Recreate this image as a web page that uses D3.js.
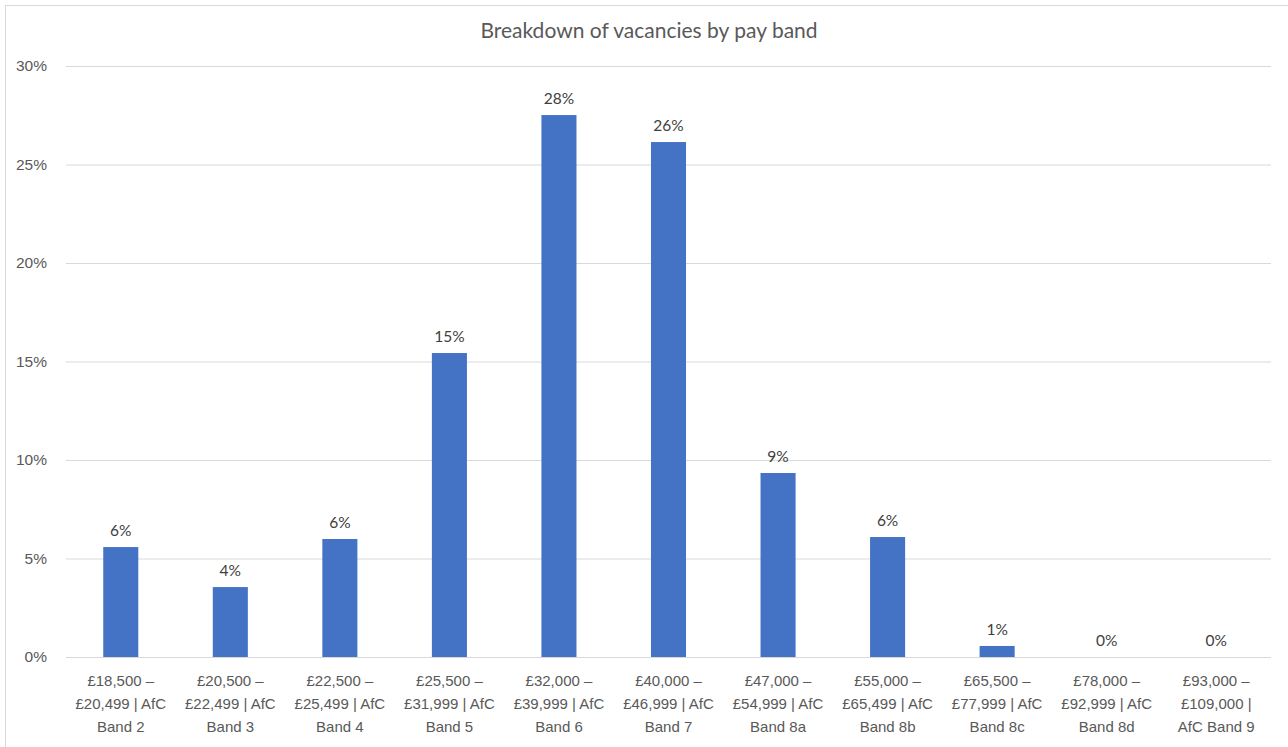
<!DOCTYPE html>
<html>
<head>
<meta charset="utf-8">
<script src="https://cdn.jsdelivr.net/npm/d3@7"></script>
<style>
  html, body { margin: 0; padding: 0; background: #fff; }
  svg { display: block; font-family: Lato, "Open Sans", sans-serif; }
</style>
</head>
<body>
<svg id="chart" width="1288" height="747"></svg>
<script>
const title = "Breakdown of vacancies by pay band";
const categories = [
  ["£18,500 –", "£20,499 | AfC", "Band 2"],
  ["£20,500 –", "£22,499 | AfC", "Band 3"],
  ["£22,500 –", "£25,499 | AfC", "Band 4"],
  ["£25,500 –", "£31,999 | AfC", "Band 5"],
  ["£32,000 –", "£39,999 | AfC", "Band 6"],
  ["£40,000 –", "£46,999 | AfC", "Band 7"],
  ["£47,000 –", "£54,999 | AfC", "Band 8a"],
  ["£55,000 –", "£65,499 | AfC", "Band 8b"],
  ["£65,500 –", "£77,999 | AfC", "Band 8c"],
  ["£78,000 –", "£92,999 | AfC", "Band 8d"],
  ["£93,000 –", "£109,000 |", "AfC Band 9"]
];
const values = [0.0558, 0.0355, 0.0599, 0.1543, 0.2751, 0.2614, 0.0934, 0.0609, 0.0056, 0, 0];
const yTicks = [0, 0.05, 0.10, 0.15, 0.20, 0.25, 0.30];

const svg = d3.select("#chart");
const W = 1288, H = 747;
const margin = {left: 66, right: 17, top: 66, bottom: 90};

// chart border
svg.append("rect").attr("x", 5.5).attr("y", 5.5).attr("width", W + 10).attr("height", H + 10)
  .attr("fill", "none").attr("stroke", "#d9d9d9").attr("stroke-width", 1);

const x = d3.scaleBand().domain(d3.range(categories.length))
  .range([margin.left, W - margin.right]).paddingInner(0.68).paddingOuter(0.34);
const y = d3.scaleLinear().domain([0, 0.30]).range([H - margin.bottom, margin.top]);

// gridlines
const yAxis = d3.axisLeft(y).tickValues(yTicks).tickFormat(d3.format(".0%"))
  .tickSize(-(W - margin.right - margin.left)).tickPadding(19);
const gy = svg.append("g").attr("transform", `translate(${margin.left},0)`).call(yAxis);
gy.select(".domain").remove();
gy.selectAll(".tick line").attr("stroke", "#d9d9d9").attr("stroke-width", 1);
gy.selectAll(".tick text").attr("fill", "#595959").style("font-size", "15.5px");

// bars
svg.append("g").selectAll("rect").data(values).join("rect")
  .attr("x", (d, i) => x(i)).attr("width", x.bandwidth())
  .attr("y", d => y(d)).attr("height", d => y(0) - y(d))
  .attr("fill", "#4472c4");

// data labels
svg.append("g").selectAll("text").data(values).join("text")
  .attr("x", (d, i) => x(i) + x.bandwidth() / 2)
  .attr("y", d => y(d) - 11)
  .attr("text-anchor", "middle")
  .attr("fill", "#404040").style("font-size", "15.5px")
  .text(d => d3.format(".0%")(d));

// x axis labels
const xAxis = d3.axisBottom(x).tickSize(0).tickFormat(() => "");
const gx = svg.append("g").attr("transform", `translate(0,${y(0)})`).call(xAxis);
gx.select(".domain").remove();
gx.selectAll(".tick").each(function(d) {
  const t = d3.select(this).append("text")
    .attr("fill", "#595959").attr("text-anchor", "middle").style("font-size", "15px");
  categories[d].forEach((line, k) => {
    t.append("tspan").attr("x", 0).attr("y", 29 + k * 23).text(line);
  });
});

// title
svg.append("text").attr("x", 649).attr("y", 38).attr("text-anchor", "middle")
  .attr("fill", "#595959").style("font-size", "21px").text(title);
</script>
</body>
</html>
